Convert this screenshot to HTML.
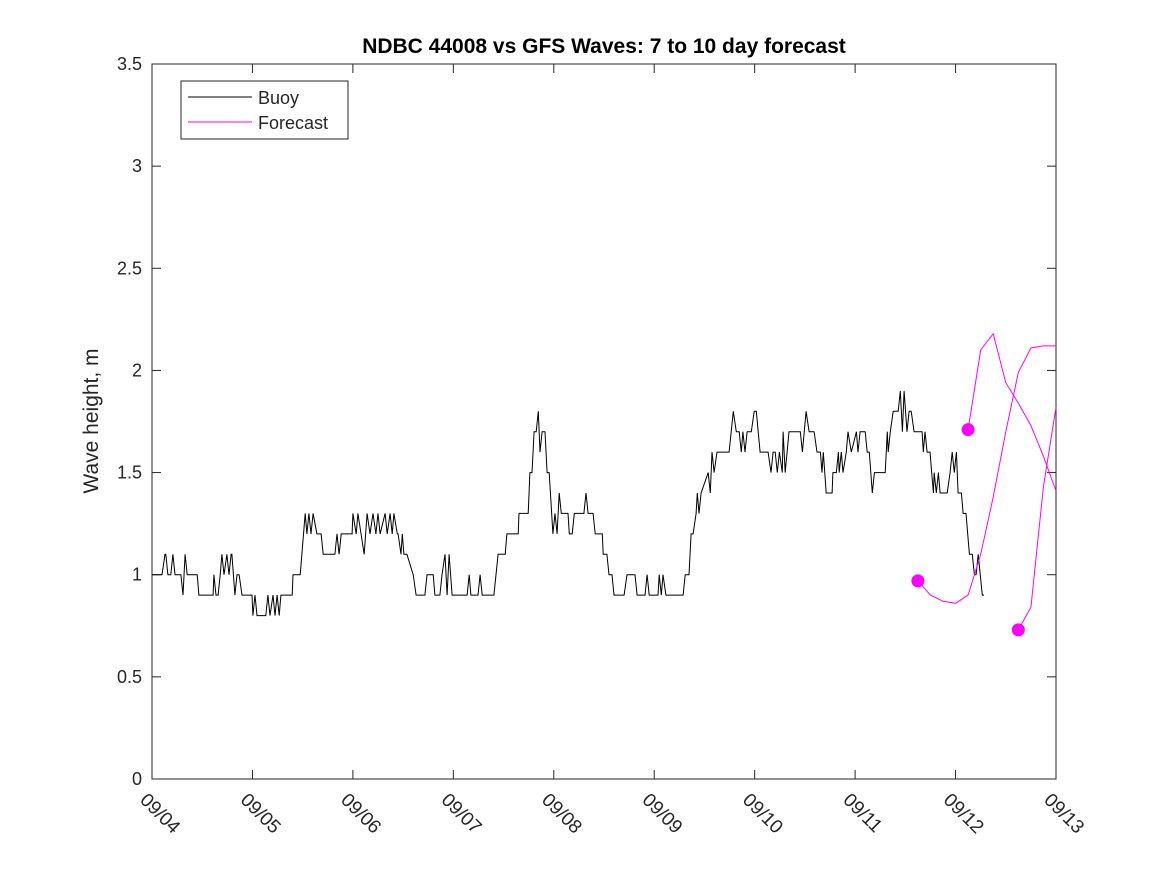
<!DOCTYPE html>
<html><head><meta charset="utf-8"><style>
body{margin:0;background:#fff;}
svg text{font-family:"Liberation Sans","DejaVu Sans",sans-serif;fill:#262626;}
</style></head><body>
<svg id="chart" width="1167" height="875" xmlns="http://www.w3.org/2000/svg">
<rect x="0" y="0" width="1167" height="875" fill="#fff"/>
<text x="604" y="53" text-anchor="middle" font-size="21" font-weight="bold" style="fill:#000">NDBC 44008 vs GFS Waves: 7 to 10 day forecast</text>
<text transform="translate(98,421) rotate(-90)" text-anchor="middle" font-size="21">Wave height, m</text>
<g id="axes"></g>
<g id="marks"></g>
<g>
<rect x="181" y="81" width="167" height="58" fill="#fff" stroke="#262626" stroke-width="1"/>
<line x1="188" y1="97" x2="252" y2="97" stroke="#000" stroke-width="1"/>
<text x="258" y="104" font-size="18">Buoy</text>
<line x1="188" y1="122" x2="252" y2="122" stroke="#f0f" stroke-width="1"/>
<text x="258" y="129" font-size="18">Forecast</text>
</g>
</svg>
<script>
const xTickLabels = ["09/04","09/05","09/06","09/07","09/08","09/09","09/10","09/11","09/12","09/13"];
const yTicks = [0,0.5,1,1.5,2,2.5,3,3.5];
const yTickLabels = ["0","0.5","1","1.5","2","2.5","3","3.5"];
const buoyHours = [0,2.4,3.1,3.3,3.8,4.5,5.0,5.5,6.9,7.4,7.9,8.4,10.8,11.2,14.6,14.8,15.3,15.8,16.3,16.7,17.2,17.9,18.4,18.9,19.1,19.8,20.3,20.8,21.5,23.9,24.1,24.6,25.1,27.2,27.7,28.2,28.9,29.4,29.9,30.4,30.8,33.5,33.7,35.4,36.6,37.0,37.5,38.0,38.5,39.4,40.4,40.9,43.7,44.2,44.7,45.2,47.8,48.0,48.8,49.2,50.7,51.4,52.1,52.8,53.5,54.0,54.5,55.7,56.2,56.9,57.4,57.8,58.6,58.8,59.5,59.8,60.2,60.9,62.4,63.1,65.2,65.7,67.2,67.6,68.8,69.3,70.0,70.5,71.0,71.7,73.6,
75.3,75.8,76.2,77.9,78.4,78.9,81.7,82.2,82.7,84.4,84.8,87.5,87.7,89.9,90.3,90.8,91.3,91.8,92.3,92.7,93.2,93.9,94.4,94.9,95.8,96.3,96.8,97.3,97.8,99.4,99.7,100.4,100.9,103.2,103.7,104.2,105.4,105.9,107.6,107.8,108.7,109.2,109.9,110.4,112.8,113.5,115.4,115.9,117.8,118.3,118.8,120.9,121.2,121.7,122.1,122.8,126.9,127.4,128.3,128.8,129.3,130.0,130.3,130.7,131.2,132.9,133.4,133.8,134.3,135.0,137.9,138.4,138.9,139.6,140.3,140.8,141.2,141.7,142.2,143.2,143.9,144.4,145.3,
147.2,147.9,148.4,148.9,149.4,149.9,150.6,150.8,151.3,152.2,154.9,155.4,156.3,157.0,158.2,158.9,159.7,160.1,160.4,161.1,162.5,162.7,163.5,164.0,164.2,164.7,165.1,165.9,166.3,167.1,168.3,168.7,169.2,170.4,170.9,171.4,172.1,172.6,175.2,175.7,175.9,176.4,177.1,178.3,178.8,179.3,179.7,180.4,180.9,181.4,182.1,184.0,184.3,184.7,185.2,185.9,186.7,186.9,187.4,187.9,188.3,190.0,190.7,191.2,191.7,192.2,192.6,193.4,193.8,194.5,195.3,196.0,196.5,196.9,197.4,198.4,198.8];
const buoyValues = [1.0,1.0,1.1,1.1,1.0,1.0,1.1,1.0,1.0,0.9,1.1,1.0,1.0,0.9,0.9,1.0,0.9,0.9,1.0,1.1,1.0,1.1,1.0,1.1,1.1,0.9,1.0,1.0,0.9,0.9,0.8,0.9,0.8,0.8,0.9,0.8,0.9,0.8,0.9,0.8,0.9,0.9,1.0,1.0,1.3,1.2,1.3,1.2,1.3,1.2,1.2,1.1,1.1,1.2,1.1,1.2,1.2,1.3,1.2,1.3,1.1,1.3,1.2,1.3,1.2,1.3,1.2,1.3,1.2,1.3,1.2,1.3,1.2,1.2,1.1,1.2,1.1,1.1,1.0,0.9,0.9,1.0,1.0,0.9,0.9,1.0,1.1,0.9,1.1,0.9,0.9,
0.9,1.0,0.9,0.9,1.0,0.9,0.9,1.0,1.1,1.1,1.2,1.2,1.3,1.3,1.5,1.5,1.7,1.7,1.8,1.6,1.7,1.7,1.5,1.5,1.2,1.3,1.2,1.4,1.3,1.3,1.2,1.2,1.3,1.3,1.4,1.3,1.3,1.2,1.2,1.1,1.1,1.0,1.0,0.9,0.9,1.0,1.0,0.9,0.9,1.0,0.9,0.9,1.0,0.9,1.0,0.9,0.9,1.0,1.0,1.2,1.2,1.3,1.4,1.3,1.4,1.5,1.4,1.6,1.5,1.6,1.6,1.7,1.8,1.7,1.7,1.6,1.7,1.6,1.7,1.7,1.8,1.8,1.6,
1.6,1.5,1.6,1.6,1.5,1.6,1.5,1.7,1.5,1.7,1.7,1.6,1.8,1.7,1.7,1.6,1.6,1.5,1.6,1.4,1.4,1.5,1.5,1.6,1.5,1.6,1.5,1.6,1.7,1.6,1.7,1.6,1.7,1.7,1.6,1.6,1.4,1.5,1.5,1.7,1.6,1.7,1.8,1.8,1.9,1.7,1.9,1.7,1.8,1.8,1.7,1.7,1.6,1.7,1.6,1.6,1.4,1.5,1.4,1.5,1.4,1.4,1.5,1.6,1.5,1.6,1.4,1.4,1.3,1.3,1.1,1.1,1.0,1.0,1.1,0.9,0.9];
const fcHoursA = [183,186,189,192,195,198,201,204,207,210,213,216];
const fcValuesA = [0.97,0.90,0.87,0.86,0.90,1.10,1.38,1.70,1.99,2.11,2.12,2.12];
const fcHoursB = [195,198,201,204,207,210,213,216];
const fcValuesB = [1.71,2.10,2.18,1.94,1.84,1.73,1.58,1.41];
const fcHoursC = [207,210,213,216];
const fcValuesC = [0.73,0.84,1.43,1.82];

const X0=152,X1=1056,Y0=779,Y1=64;
const xScale = h => X0 + h/216*(X1-X0);
const yScale = v => Y0 - v/3.5*(Y0-Y1);
const NS="http://www.w3.org/2000/svg";
const axes=document.getElementById('axes'), marks=document.getElementById('marks');
function mk(tag,attrs,parent){const e=document.createElementNS(NS,tag);for(const k in attrs)e.setAttribute(k,attrs[k]);parent.appendChild(e);return e;}

const frame=mk('rect',{x:X0,y:Y1,width:X1-X0,height:Y0-Y1,fill:'none',stroke:'#262626','stroke-width':1},axes);


xTickLabels.forEach((lab,i)=>{
  const x=xScale(i*24);
  const t1=mk('line',{x1:x,y1:Y0,x2:x,y2:Y0-9,stroke:'#262626'},axes);
  
  
  const t2=mk('line',{x1:x,y1:Y1,x2:x,y2:Y1+9,stroke:'#262626'},axes);
  
  
  const tx=mk('text',{x:0,y:0,'font-size':19,transform:`translate(${x-13},${801}) rotate(45)`},axes);
  tx.textContent=lab;
  
  
});
yTicks.forEach((v,i)=>{
  const y=yScale(v);
  const t1=mk('line',{x1:X0,y1:y,x2:X0+9,y2:y,stroke:'#262626'},axes);
  
  
  const t2=mk('line',{x1:X1,y1:y,x2:X1-9,y2:y,stroke:'#262626'},axes);
  
  
  const tx=mk('text',{x:X0-10,y:y+6,'font-size':18,'text-anchor':'end'},axes);
  tx.textContent=yTickLabels[i];
  
  
});
const pts=(hs,vs)=>hs.map((h,i)=>xScale(h).toFixed(1)+','+yScale(vs[i]).toFixed(1)).join(' ');
const buoy=mk('polyline',{points:pts(buoyHours,buoyValues),fill:'none',stroke:'#000','stroke-width':1},marks);


[[fcHoursA,fcValuesA,'a'],[fcHoursB,fcValuesB,'b'],[fcHoursC,fcValuesC,'c']].forEach(([hs,vs,n])=>{
  const l=mk('polyline',{points:pts(hs,vs),fill:'none',stroke:'#f0f','stroke-width':1},marks);
  
  
  const c=mk('circle',{cx:xScale(hs[0]),cy:yScale(vs[0]),r:6.5,fill:'#f0f'},marks);
  
  
});
</script>
</body></html>
